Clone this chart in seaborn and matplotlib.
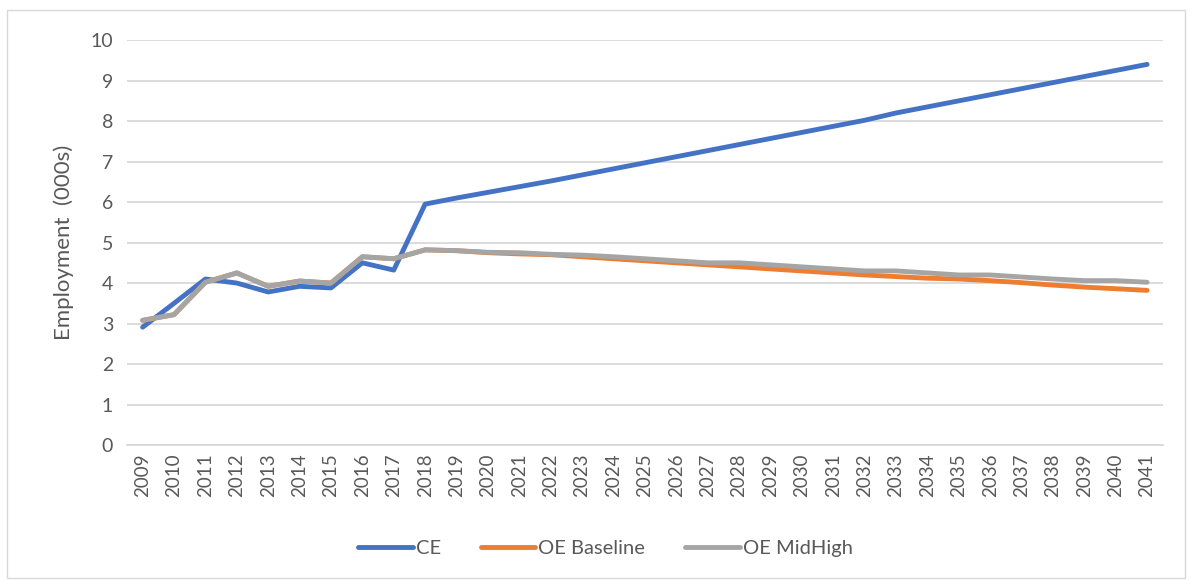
import numpy as np
import pandas as pd
import seaborn as sns
import matplotlib.pyplot as plt
from matplotlib.patches import Rectangle

years = list(range(2009, 2042))

ce = [2.91, 3.5, 4.1, 4.0, 3.78, 3.92, 3.88, 4.5, 4.32, 5.95,
      6.1, 6.24, 6.38, 6.52, 6.67, 6.82, 6.97, 7.12, 7.27, 7.42,
      7.57, 7.72, 7.87, 8.02, 8.2, 8.35, 8.5, 8.65, 8.8, 8.95,
      9.1, 9.25, 9.4]
oe_baseline = [3.08, 3.22, 4.02, 4.25, 3.92, 4.05, 4.0, 4.65, 4.6, 4.82,
               4.8, 4.75, 4.72, 4.7, 4.65, 4.6, 4.55, 4.5, 4.45, 4.4,
               4.35, 4.3, 4.25, 4.2, 4.16, 4.12, 4.1, 4.06, 4.01, 3.95,
               3.9, 3.86, 3.82]
oe_midhigh = [3.08, 3.22, 4.02, 4.25, 3.92, 4.05, 4.0, 4.65, 4.6, 4.82,
              4.8, 4.76, 4.75, 4.71, 4.69, 4.65, 4.6, 4.55, 4.5, 4.5,
              4.45, 4.4, 4.35, 4.3, 4.3, 4.25, 4.2, 4.2, 4.15, 4.1,
              4.06, 4.06, 4.02]

series_names = ["CE", "OE Baseline", "OE MidHigh"]
colors = ["#4472C4", "#ED7D31", "#A5A5A5"]

df = pd.DataFrame({"year": years, "CE": ce, "OE Baseline": oe_baseline,
                   "OE MidHigh": oe_midhigh})
long = df.melt(id_vars="year", var_name="series", value_name="value")

sns.set_style("white")
plt.rcParams['font.family'] = ['Lato', 'DejaVu Sans']
text_col = "#595959"

fig = plt.figure(figsize=(11.92, 5.81), dpi=100)
ax = fig.add_axes([0.1065, 0.234, 0.869, 0.697])

sns.lineplot(data=long, x="year", y="value", hue="series",
             hue_order=series_names, palette=colors, linewidth=3.5,
             solid_capstyle="round", ax=ax)

ax.set_xlim(2008.5, 2041.5)
ax.set_ylim(0, 10)
ax.set_yticks(range(0, 11))
ax.set_xticks(years)
ax.set_xticklabels([str(y) for y in years], rotation=90)
ax.yaxis.grid(True, color="#D9D9D9", linewidth=1.3)
ax.set_axisbelow(True)
for s in ["top", "right", "left"]:
    ax.spines[s].set_visible(False)
ax.spines["bottom"].set_color("#D9D9D9")
ax.spines["bottom"].set_linewidth(1.3)
ax.tick_params(axis="y", length=0, labelsize=14, colors=text_col, pad=10)
ax.tick_params(axis="x", length=0, labelsize=13.5, colors=text_col, pad=6)
ax.set_xlabel("")
ax.set_ylabel("Employment  (000s)", fontsize=16, color=text_col, labelpad=12)

handles, labels = ax.get_legend_handles_labels()
ax.legend(handles, labels, loc="center", bbox_to_anchor=(0.462, -0.255),
          ncol=3, frameon=False, fontsize=14.5, handlelength=2.7,
          columnspacing=2.0, handletextpad=0.15, labelcolor=text_col)

fig.patches.append(Rectangle((0.006, 0.006), 0.988, 0.977, transform=fig.transFigure,
                             fill=False, edgecolor="#D9D9D9", linewidth=1))

fig.savefig("out.png", dpi=100)
